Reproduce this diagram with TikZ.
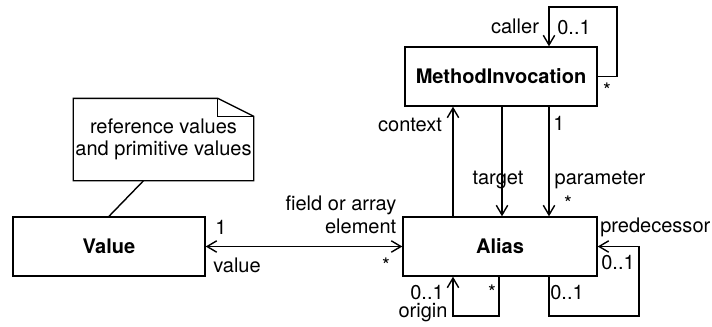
\documentclass[tikz,border=0pt]{standalone}
\usepackage{fontspec}
\setmainfont{TeX Gyre Heros}
\usetikzlibrary{arrows.meta,positioning,calc}

\begin{document}
\begin{tikzpicture}[x=0.2mm, y=-0.2mm, line width=0.8pt,
    every node/.append style={font=\fontsize{11.4}{12.8}\selectfont, inner sep=0pt},
    class/.style={draw, minimum width=38.4mm, minimum height=11.8mm,
      font=\fontsize{11.4}{12.8}\selectfont\bfseries},
    assoc/.style={-{Straight Barb[length=5.5pt,width=6.5pt]}},
    twoway/.style={{Straight Barb[length=5.5pt,width=6.5pt]}-{Straight Barb[length=5.5pt,width=6.5pt]}}]
    \useasboundingbox (0,0) rectangle (712,326);
    % classes
    \node[class] (value) at (109,246.5) {Value};
    \node[class, minimum width=38.8mm] (alias) at (500,246.5) {Alias};
    \node[class] (invoc) at (501,76.5) {MethodInvocation};
    % note
    \node[align=center, minimum width=35.8mm, minimum height=16.2mm] (note) at (163.5,139.5)
      {reference values\\and primitive values};
    \draw (note.north west) -- ($(note.north east)+(-36,0)$) -- ($(note.north east)+(0,18)$)
      -- (note.south east) -- (note.south west) -- cycle;
    \draw ($(note.north east)+(-36,0)$) |- ($(note.north east)+(0,18)$);
    \draw ($(note.south)+(-20,0)$) -- (value.north);
    % helper points for the connectors
    \coordinate (callTR) at (617,7);
    \coordinate (callTL) at (549,7);
    \coordinate (ctx) at (453,0);
    \coordinate (tgt) at (502,0);
    \coordinate (par) at (549,0);
    \coordinate (orgBR) at (499,316);
    \coordinate (orgBL) at (453,316);
    \coordinate (preBL) at (549,316);
    \coordinate (preBR) at (639,316);
    % associations
    \draw[twoway] (value) -- (alias);
    \draw[assoc] (invoc.east) -| (callTR) -- (callTL) -- (invoc.north -| callTL);
    \draw[assoc] (alias.north -| ctx) -- (invoc.south -| ctx);
    \draw[assoc] (invoc.south -| tgt) -- (alias.north -| tgt);
    \draw[assoc] (invoc.south -| par) -- (alias.north -| par);
    \draw[assoc] (alias.south -| orgBR) -- (orgBR) -- (orgBL) -- (alias.south -| orgBL);
    \draw[assoc] (alias.south -| preBL) -- (preBL) -- (preBR) |- (alias.east);
    % role names and multiplicities
    \node (callerlbl) at (515,26) {caller};
    \node (callermult) at (574,28) {0..1};
    \node (calleestar) at (607,90) {*};
    \node (contextlbl) at (410,125) {context};
    \node (contextmult) at (559,123) {1};
    \node (targetlbl) at (498,180) {target};
    \node (paramlbl) at (600,180) {parameter};
    \node (paramstar) at (568,203) {*};
    \node[anchor=east, align=right] (fieldlbl) at (397,215) {field or array\\element};
    \node (valuemult) at (221,227) {1};
    \node (valuelbl) at (237,265) {value};
    \node (fieldstar) at (386,265) {*};
    \node[anchor=east] (predlbl) at (711,227) {predecessor};
    \node (predmult) at (618,263) {0..1};
    \node (succmult) at (567,293) {0..1};
    \node (originmult) at (427,293) {0..1};
    \node (originstar) at (492,292) {*};
    \node (originlbl) at (423,313) {origin};
\end{tikzpicture}
\end{document}
